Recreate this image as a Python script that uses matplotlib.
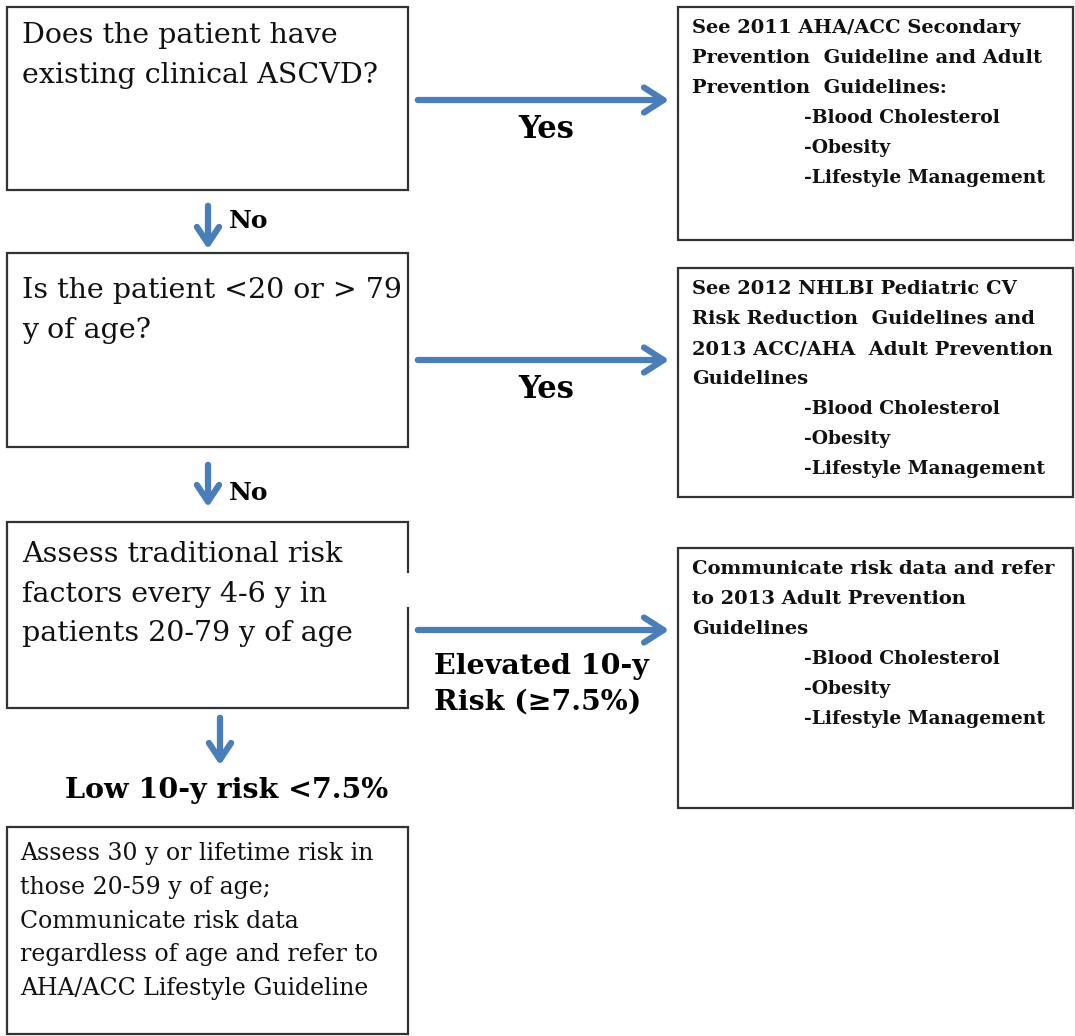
import matplotlib
matplotlib.use("Agg")
import matplotlib.pyplot as plt
from matplotlib.patches import Rectangle, FancyArrowPatch

W, H = 1075, 1036
FONT = "DejaVu Serif"
BLUE = "#4a7ebb"
EDGE = "#333333"

# Left decision boxes
left_texts = [
    "Does the patient have\nexisting clinical ASCVD?",
    "Is the patient <20 or > 79\ny of age?",
    "Assess traditional risk\nfactors every 4-6 y in\npatients 20-79 y of age",
]
final_text = ("Assess 30 y or lifetime risk in\nthose 20-59 y of age;\n"
              "Communicate risk data\nregardless of age and refer to\n"
              "AHA/ACC Lifestyle Guideline")

# Right recommendation boxes: header lines and indented items
right_headers = [
    ["See 2011 AHA/ACC Secondary", "Prevention  Guideline and Adult", "Prevention  Guidelines:"],
    ["See 2012 NHLBI Pediatric CV", "Risk Reduction  Guidelines and", "2013 ACC/AHA  Adult Prevention", "Guidelines"],
    ["Communicate risk data and refer", "to 2013 Adult Prevention", "Guidelines"],
]
right_items = ["-Blood Cholesterol", "-Obesity", "-Lifestyle Management"]

yes_labels = ["Yes", "Yes", "Elevated 10-y\nRisk (\u22657.5%)"]
no_labels = ["No", "No"]
low_label = "Low 10-y risk <7.5%"

# layout (pixels)
left_boxes = [(7, 7, 401, 183), (7, 253, 401, 194), (7, 522, 401, 186), (7, 827, 401, 207)]
left_text_off = [15, 24, 19]
right_boxes = [(678, 7, 395, 233), (678, 268, 395, 229), (678, 548, 395, 260)]
h_arrow_y = [100, 360, 630]
v_arrows = [(208, 203, 252), (208, 462, 510), (220, 715, 768)]

fig = plt.figure(figsize=(W / 100, H / 100), dpi=100)
ax = fig.add_axes([0, 0, 1, 1])
ax.set_xlim(0, W)
ax.set_ylim(H, 0)
ax.axis("off")

for i, (x, y, w, h) in enumerate(left_boxes + right_boxes):
    if i == 2:
        # third box: right edge has a small gap near the arrow
        ax.plot([x + w, x + w, x, x, x + w, x + w], [y + 50, y, y, y + h, y + h, y + 86],
                color=EDGE, lw=1.6, solid_joinstyle="miter")
    else:
        ax.add_patch(Rectangle((x, y), w, h, fill=False, edgecolor=EDGE, lw=1.6))

for (x, y, w, h), t, off in zip(left_boxes[:3], left_texts, left_text_off):
    ax.text(x + 15, y + off, t, ha="left", va="top", fontsize=20.5, family=FONT,
            color="#111111", linespacing=1.6)
x, y, w, h = left_boxes[3]
ax.text(x + 13, y + 15, final_text, ha="left", va="top", fontsize=17, family=FONT,
        color="#111111", linespacing=1.6)

for (x, y, w, h), hdr in zip(right_boxes, right_headers):
    yy = y + 12
    for line in hdr:
        ax.text(x + 14, yy, line, ha="left", va="top", fontsize=14, family=FONT,
                fontweight="bold", color="#111111")
        yy += 30
    for line in right_items:
        ax.text(x + 126, yy, line, ha="left", va="top", fontsize=13.5, family=FONT,
                fontweight="bold", color="#111111")
        yy += 30

for yy in h_arrow_y:
    ax.add_patch(FancyArrowPatch((415, yy), (672, yy), arrowstyle="->,head_length=14,head_width=9",
                                 color=BLUE, lw=4.5, mutation_scale=1))

for (xx, y0, y1) in v_arrows:
    ax.add_patch(FancyArrowPatch((xx, y0), (xx, y1), arrowstyle="->,head_length=12,head_width=8",
                                 color=BLUE, lw=4.5, mutation_scale=1))

ax.text(546, 130, yes_labels[0], ha="center", va="center", fontsize=22, family=FONT, fontweight="bold")
ax.text(546, 390, yes_labels[1], ha="center", va="center", fontsize=22, family=FONT, fontweight="bold")
ax.text(434, 684, yes_labels[2], ha="left", va="center", fontsize=20.5, family=FONT, fontweight="bold",
        linespacing=1.4)
ax.text(229, 221, no_labels[0], ha="left", va="center", fontsize=18, family=FONT, fontweight="bold")
ax.text(229, 493, no_labels[1], ha="left", va="center", fontsize=18, family=FONT, fontweight="bold")
ax.text(227, 790, low_label, ha="center", va="center", fontsize=20.5, family=FONT, fontweight="bold")

fig.savefig("out.png", dpi=100, facecolor="white")
